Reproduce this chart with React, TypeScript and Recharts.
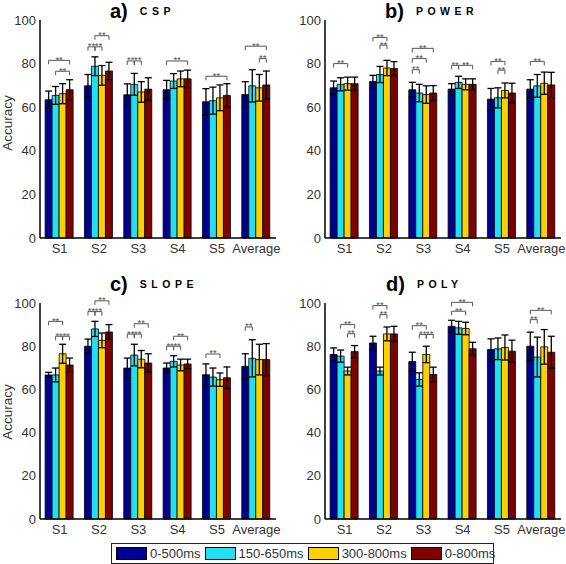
import React from "react";
import {
  BarChart,
  Bar,
  XAxis,
  YAxis,
  ErrorBar,
  ReferenceLine,
} from "recharts";

const categories = ["S1", "S2", "S3", "S4", "S5", "Average"];
const seriesNames = ["0-500ms", "150-650ms", "300-800ms", "0-800ms"];
const colors = ["#000090", "#22E0F2", "#FFD000", "#7F0000"];
const yTicks = [0, 20, 40, 60, 80, 100];

// mean accuracy per category, one value per window
const cspMean = [
  [63.4, 65.4, 66.2, 68.0],
  [69.8, 78.8, 74.6, 76.6],
  [65.7, 70.5, 67.0, 68.3],
  [68.0, 72.0, 73.0, 73.0],
  [62.5, 63.0, 64.3, 65.4],
  [65.8, 69.8, 68.9, 70.2],
];
const cspErr = [
  [4.0, 4.1, 4.6, 4.6],
  [5.2, 4.3, 4.5, 4.0],
  [5.0, 5.0, 4.7, 5.2],
  [4.3, 3.4, 3.6, 4.0],
  [6.0, 6.2, 5.9, 5.4],
  [5.9, 7.4, 6.1, 6.4],
];
// [category, fromBar, toBar, level]
const cspSig = [
  [0, 0, 3, 81.5], [0, 1, 3, 76.5],
  [1, 0, 1, 87.7], [1, 1, 2, 87.7], [1, 1, 3, 92.8],
  [2, 0, 1, 81.2], [2, 1, 2, 81.2],
  [3, 0, 3, 81.2],
  [4, 0, 3, 74.2],
  [5, 0, 3, 88], [5, 2, 3, 82.3],
];

const powerMean = [
  [68.9, 70.5, 70.8, 70.8],
  [71.8, 75.0, 78.0, 77.7],
  [68.0, 66.5, 65.8, 66.5],
  [68.3, 71.4, 70.5, 70.5],
  [63.7, 64.3, 67.7, 66.5],
  [68.3, 69.8, 71.0, 70.2],
];
const powerErr = [
  [3.1, 3.0, 3.0, 3.0],
  [2.8, 3.7, 3.5, 3.2],
  [3.4, 4.0, 4.0, 3.4],
  [2.5, 2.8, 2.5, 2.5],
  [4.9, 4.6, 3.4, 4.5],
  [4.3, 5.2, 5.1, 5.8],
];
const powerSig = [
  [0, 0, 2, 80],
  [1, 0, 2, 92], [1, 1, 2, 88.5],
  [2, 0, 3, 87], [2, 0, 2, 82.3], [2, 0, 1, 77.2],
  [3, 0, 1, 79.2], [3, 1, 3, 79.2],
  [4, 0, 2, 81], [4, 1, 2, 77],
  [5, 0, 2, 81],
];

const slopeMean = [
  [66.7, 66.7, 76.5, 71.3],
  [80.0, 88.0, 82.7, 86.6],
  [69.9, 75.9, 74.0, 72.2],
  [69.9, 73.0, 71.3, 71.8],
  [66.8, 65.7, 64.5, 65.4],
  [70.7, 74.4, 73.8, 73.8],
];
const slopeErr = [
  [1.2, 3.2, 4.4, 3.2],
  [3.3, 3.5, 3.4, 3.4],
  [4.6, 5.0, 4.0, 4.3],
  [2.3, 2.6, 2.7, 2.2],
  [5.0, 4.2, 3.1, 5.0],
  [5.8, 8.6, 7.1, 7.4],
];
const slopeSig = [
  [0, 0, 2, 91.5], [0, 1, 2, 84.6], [0, 2, 3, 84.6],
  [1, 0, 1, 96], [1, 1, 2, 96], [1, 1, 3, 101],
  [2, 0, 1, 85.6], [2, 1, 2, 85.6], [2, 1, 3, 90.4],
  [3, 0, 1, 80], [3, 1, 2, 80], [3, 1, 3, 84.6],
  [4, 0, 2, 76.4],
  [5, 0, 1, 88.9],
];

const polyMean = [
  [76.2, 75.4, 68.5, 77.5],
  [81.5, 68.5, 85.7, 85.7],
  [72.9, 64.6, 76.2, 66.9],
  [89.2, 88.5, 88.2, 78.8],
  [78.5, 78.8, 79.4, 77.7],
  [80.0, 75.0, 79.7, 77.2],
];
const polyErr = [
  [3.0, 2.8, 1.8, 2.8],
  [3.1, 1.8, 3.2, 3.5],
  [4.3, 3.1, 3.8, 3.4],
  [2.8, 3.0, 2.9, 3.0],
  [4.9, 5.0, 5.8, 5.1],
  [6.5, 9.2, 8.0, 7.4],
];
const polySig = [
  [0, 1, 3, 90], [0, 2, 3, 85.8],
  [1, 0, 2, 98.8], [1, 1, 2, 94.6],
  [2, 0, 2, 89.5], [2, 1, 2, 85.4], [2, 2, 3, 85.4],
  [3, 0, 3, 100.3], [3, 0, 2, 96.2],
  [5, 0, 3, 96.6], [5, 0, 1, 92.3],
];

const GAP = 0.13; // barCategoryGap as a fraction of the band
const PLOT_W = 236;
const BAND = PLOT_W / categories.length;
const BAR_PX = Math.floor((BAND * (1 - 2 * GAP)) / 4);
// pixel offset of bar k centre from the band centre (same rule recharts uses)
const barOff = (k: number) => BAND * GAP + BAR_PX * k + BAR_PX / 2 - BAND / 2;

const FONT = "'Liberation Sans', Arial, sans-serif";
const TEXT = "#333";

function buildRows(mean: number[][], err: number[][]) {
  return categories.map((name, i) => ({
    name,
    m0: mean[i][0], m1: mean[i][1], m2: mean[i][2], m3: mean[i][3],
    e0: err[i][0], e1: err[i][1], e2: err[i][2], e3: err[i][3],
  }));
}

const Bracket = (p: any) => {
  const { x1, y1, x2, d1, d2 } = p;
  if (x1 == null || y1 == null) return null;
  const a = x1 + d1;
  const b = x2 + d2;
  return (
    <g>
      <path
        d={`M${a},${y1 + 4}V${y1}H${b}V${y1 + 4}`}
        stroke="#555"
        strokeWidth={1}
        fill="none"
      />
      <text
        x={(a + b) / 2}
        y={y1 + 2.5}
        textAnchor="middle"
        fontSize={9.5}
        fill="#555"
        fontFamily={FONT}
      >
        **
      </text>
    </g>
  );
};

function Panel(props: {
  mean: number[][];
  err: number[][];
  sig: number[][];
  width: number;
  height: number;
  top: number;
  right: number;
  axisW: number;
}) {
  const data = buildRows(props.mean, props.err);
  return (
    <BarChart
      width={props.width}
      height={props.height}
      data={data}
      margin={{ top: props.top, right: props.right, left: 0, bottom: 0 }}
      barCategoryGap={`${GAP * 100}%`}
      barGap={0}
    >
      <XAxis
        dataKey="name"
        height={24}
        axisLine={{ stroke: "#000", strokeWidth: 1.5 }}
        tickLine={false}
        tickSize={0}
        tickMargin={6}
        interval={0}
        tick={{ fill: TEXT, fontSize: 13, fontFamily: FONT }}
      />
      <YAxis
        width={props.axisW}
        domain={[0, 100]}
        ticks={yTicks}
        axisLine={{ stroke: "#000", strokeWidth: 1.5 }}
        tickLine={false}
        tickSize={0}
        tickMargin={4}
        tick={{ fill: TEXT, fontSize: 13, fontFamily: FONT }}
      />
      {[0, 1, 2, 3].map((k) => (
        <Bar
          key={k}
          dataKey={`m${k}`}
          name={seriesNames[k]}
          fill={colors[k]}
          stroke="#000"
          strokeWidth={0.8}
          isAnimationActive={false}
        >
          <ErrorBar
            dataKey={`e${k}`}
            width={3.5}
            stroke="#000"
            strokeWidth={1.3}
            direction="y"
            isAnimationActive={false}
          />
        </Bar>
      ))}
      {props.sig.map(([g, a, b, y], i) => (
        <ReferenceLine
          key={i}
          ifOverflow="visible"
          segment={[
            { x: categories[g], y },
            { x: categories[g], y },
          ]}
          shape={(p: any) => <Bracket {...p} d1={barOff(a)} d2={barOff(b)} />}
        />
      ))}
    </BarChart>
  );
}

function Title({ x, y, tag, name }: { x: number; y: number; tag: string; name: string }) {
  return (
    <div style={{ position: "absolute", left: x, top: y, whiteSpace: "nowrap", lineHeight: 1 }}>
      <span style={{ fontSize: 20, fontWeight: 700, color: "#000" }}>{tag}</span>
      <span
        style={{
          fontSize: 10.5,
          fontWeight: 700,
          letterSpacing: 4.5,
          marginLeft: 12,
          color: "#000",
          verticalAlign: 3,
        }}
      >
        {name}
      </span>
    </div>
  );
}

export default function App() {
  return (
    <div
      style={{
        position: "absolute",
        left: 0,
        top: 0,
        width: 566,
        height: 564,
        background: "#fff",
        fontFamily: FONT,
        overflow: "hidden",
      }}
    >
      <div style={{ position: "absolute", left: 0, top: 0 }}>
        <Panel mean={cspMean} err={cspErr} sig={cspSig} width={283} height={262} top={20} right={7} axisW={40} />
      </div>
      <div style={{ position: "absolute", left: 283, top: 0 }}>
        <Panel mean={powerMean} err={powerErr} sig={powerSig} width={283} height={262} top={20} right={5} axisW={42} />
      </div>
      <div style={{ position: "absolute", left: 0, top: 270 }}>
        <Panel mean={slopeMean} err={slopeErr} sig={slopeSig} width={283} height={273} top={33} right={7} axisW={40} />
      </div>
      <div style={{ position: "absolute", left: 283, top: 270 }}>
        <Panel mean={polyMean} err={polyErr} sig={polySig} width={283} height={273} top={33} right={5} axisW={42} />
      </div>

      <Title x={110} y={1} tag="a)" name="CSP" />
      <Title x={385} y={1} tag="b)" name="POWER" />
      <Title x={110} y={274} tag="c)" name="SLOPE" />
      <Title x={386} y={274} tag="d)" name="POLY" />

      <svg width={20} height={564} style={{ position: "absolute", left: 0, top: 0 }}>
        <text transform="translate(12,123) rotate(-90)" textAnchor="middle" fontSize={13.5} fill={TEXT} fontFamily={FONT}>
          Accuracy
        </text>
        <text transform="translate(12,412) rotate(-90)" textAnchor="middle" fontSize={13.5} fill={TEXT} fontFamily={FONT}>
          Accuracy
        </text>
      </svg>

      <div
        style={{
          position: "absolute",
          left: 111,
          top: 543,
          width: 377,
          height: 19,
          border: "1px solid #222",
          display: "flex",
          alignItems: "center",
          paddingLeft: 4,
          boxSizing: "content-box",
          whiteSpace: "nowrap",
        }}
      >
        {seriesNames.map((s, k) => (
          <div key={s} style={{ display: "flex", alignItems: "center", marginRight: 4, flexShrink: 0 }}>
            <div
              style={{
                width: 29,
                height: 11,
                background: colors[k],
                border: "1px solid #000",
                marginRight: 3,
                flexShrink: 0,
              }}
            />
            <span style={{ fontSize: 13, color: TEXT, lineHeight: 1 }}>{s}</span>
          </div>
        ))}
      </div>
    </div>
  );
}
